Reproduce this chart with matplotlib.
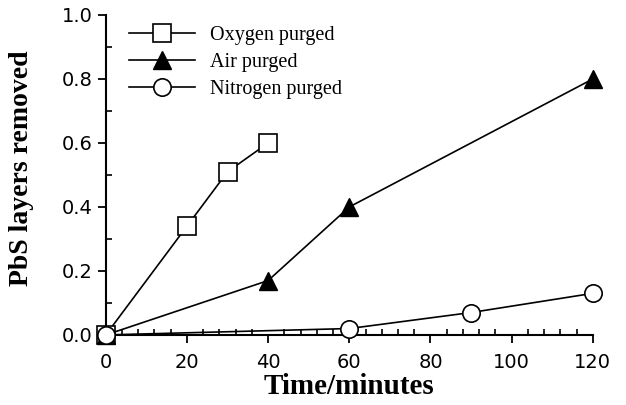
import matplotlib.pyplot as plt
from matplotlib.ticker import MultipleLocator

# data
oxy_t = [0, 20, 30, 40]
oxy_y = [0.0, 0.34, 0.51, 0.60]
air_t = [0, 40, 60, 120]
air_y = [0.0, 0.17, 0.40, 0.80]
nit_t = [0, 60, 90, 120]
nit_y = [0.0, 0.02, 0.07, 0.13]

fig = plt.figure(figsize=(6.26, 4.05), dpi=100)
ax = fig.add_axes([0.169, 0.173, 0.778, 0.79])

ax.plot(oxy_t, oxy_y, color='k', lw=1.2, marker='s', ms=12.5, mfc='white', mec='k', mew=1.2,
        label='Oxygen purged', clip_on=False, zorder=3)
ax.plot(air_t, air_y, color='k', lw=1.2, marker='^', ms=13, mfc='k', mec='k',
        label='Air purged', clip_on=False, zorder=3)
ax.plot(nit_t, nit_y, color='k', lw=1.2, marker='o', ms=12.5, mfc='white', mec='k', mew=1.2,
        label='Nitrogen purged', clip_on=False, zorder=4)

ax.set_xlim(0, 120)
ax.set_ylim(0, 1.0)
ax.xaxis.set_major_locator(MultipleLocator(20))
ax.xaxis.set_minor_locator(MultipleLocator(4))
ax.yaxis.set_major_locator(MultipleLocator(0.2))
ax.yaxis.set_minor_locator(MultipleLocator(0.1))
ax.tick_params(which='major', direction='out', length=6, width=1.3, labelsize=14)
ax.tick_params(axis='x', which='major', pad=7)
ax.tick_params(which='minor', direction='in', length=4, width=1.2)
ax.set_yticks([0, 0.2, 0.4, 0.6, 0.8, 1.0])
ax.set_yticklabels(['0.0', '0.2', '0.4', '0.6', '0.8', '1.0'])
for lab in ax.get_xticklabels() + ax.get_yticklabels():
    lab.set_family('DejaVu Sans')

ax.spines['top'].set_visible(False)
ax.spines['right'].set_visible(False)
ax.spines['left'].set_linewidth(1.5)
ax.spines['bottom'].set_linewidth(1.5)

ax.set_xlabel('Time/minutes', fontsize=21, fontweight='bold', family='Liberation Serif')
ax.xaxis.set_label_coords(0.5, -0.12)
ax.set_ylabel('PbS layers removed', fontsize=20, fontweight='bold', family='Liberation Serif')
ax.yaxis.set_label_coords(-0.147, 0.52)

ax.legend(loc='upper left', bbox_to_anchor=(0.01, 1.022), frameon=False, handlelength=3.3,
          handletextpad=0.75, labelspacing=0.38, prop={'family': 'Liberation Serif', 'size': 14.5})

fig.savefig('out.png', dpi=100)
